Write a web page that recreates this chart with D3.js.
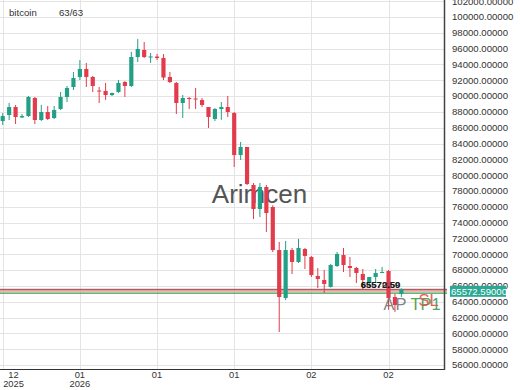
<!DOCTYPE html>
<html>
<head>
<meta charset="utf-8">
<script src="https://cdn.jsdelivr.net/npm/d3@7"></script>
<style>
body { margin: 0; background: #fff; font-family: "Liberation Sans", Arial, sans-serif; }
</style>
</head>
<body>
<svg id="chart" width="520" height="390"></svg>
<script>
// daily candles, first one on 20 Dec 2025
const startDate = new Date(2025, 11, 20);

const opens = [
    86850, 87610, 88620, 87300, 87480, 89760, 86980, 87990, 87230, 88370,
    89890, 91150, 92420, 93430, 92420, 90700, 90650, 90140, 90520, 91780,
    91280, 94940, 95830, 94880, 95000, 94820, 92420, 91660, 89130, 89760,
    89700, 89510, 88620, 87110, 88370, 88620, 87860, 82550, 83570, 78760,
    75730, 78510, 75980, 70540, 64480, 70540, 69030, 70670, 69660, 67260,
    66750, 65870, 68520, 69910, 68520, 68270, 67510, 66370, 67130, 67640,
    67890, 64600, 64980
];
const highs = [
    87860, 89130, 88870, 87740, 90010, 89890, 88880, 88750, 88750, 90520,
    91280, 93050, 94560, 94190, 92540, 91150, 91660, 90450, 92040, 91910,
    95580, 97220, 96840, 95450, 95320, 95320, 93050, 91780, 90140, 89890,
    91020, 89760, 88620, 88500, 89250, 90010, 87990, 84200, 83570, 79010,
    79010, 78760, 76200, 71560, 71690, 70800, 71940, 70800, 69790, 68270,
    68020, 68770, 70290, 70800, 69660, 68400, 68140, 67130, 68140, 68400,
    68020, 64980, 65700
];
const lows = [
    86350, 86980, 86470, 87230, 87360, 86470, 86850, 86980, 87100, 88240,
    89250, 90770, 92040, 91150, 90520, 89130, 89510, 90010, 90390, 89890,
    91150, 94310, 94820, 94190, 94560, 92040, 91660, 87740, 87230, 88370,
    88370, 88620, 85970, 86850, 87000, 87360, 81040, 81920, 78760, 74460,
    74720, 72820, 70290, 60180, 64220, 67510, 68900, 68140, 67130, 65740,
    65110, 65800, 68400, 67760, 67130, 66370, 65610, 66000, 66370, 67640,
    63000, 62710, 64600
];
const closes = [
    87480, 88620, 87360, 87480, 89890, 86980, 87990, 87110, 88240, 89890,
    91020, 92290, 93430, 92420, 91280, 90580, 90140, 90390, 91660, 91280,
    94940, 95960, 94940, 95010, 94820, 92350, 91780, 89130, 89760, 89630,
    89600, 88880, 87360, 88370, 88620, 87990, 82550, 83570, 78890, 75730,
    78510, 75220, 70540, 64600, 70540, 69030, 70800, 69790, 67380, 66880,
    66250, 68650, 70040, 68650, 68270, 67640, 66750, 67130, 67640, 67760,
    64480, 63590, 65572.59
];

const yTicks = d3.range(56000, 102001, 2000);
const xTickEvery = 12;

const symbol = "bitcoin";
const countLabel = "63/63";
const watermark = "Arimcen";
const lastPrice = 65572.59;
const priceTags = ["65572.59", "65570.50"];

// trade levels drawn as lines + markers
const levelNames = ["SL", "P", "TP1"];
const levelValues = [65400, 65572.59, 65080];
const levelColors = ["#e3a0a0", "#9a4545", "#3f9b4a"];
const levelWidths = [2.2, 1, 1.2];

const upColor = "#21a086", downColor = "#e23b4c";

const plotRight = 444, plotBottom = 369;

const svg = d3.select("#chart");

const candles = opens.map((o, i) => ({
    i, date: d3.timeDay.offset(startDate, i),
    o, h: highs[i], l: lows[i], c: closes[i]
}));

const x = d3.scaleBand()
    .domain(candles.map(d => d.i))
    .range([-0.5, 404.6])
    .paddingInner(0.35)
    .paddingOuter(0.175);
const cx = i => x(i) + x.bandwidth() / 2;

const y = d3.scaleLinear().domain([55500, 102150]).range([plotBottom, 0]);

// grid
const grid = svg.append("g");
grid.selectAll(".hg").data(yTicks).enter().append("line")
    .attr("x1", 0).attr("x2", plotRight)
    .attr("y1", d => Math.round(y(d)) + 0.5).attr("y2", d => Math.round(y(d)) + 0.5)
    .attr("stroke", "#e4e4e4").attr("stroke-width", 1);

const xTicks = candles.filter(d => d.i % xTickEvery === 0);
grid.selectAll(".vg").data(xTicks).enter().append("line")
    .attr("x1", d => Math.round(cx(d.i)) + 0.5).attr("x2", d => Math.round(cx(d.i)) + 0.5)
    .attr("y1", 0).attr("y2", plotBottom)
    .attr("stroke", "#e4e4e4").attr("stroke-width", 1);

// watermark behind candles
svg.append("text")
    .attr("x", 259.5).attr("y", 203)
    .attr("text-anchor", "middle")
    .attr("font-size", 26).attr("fill", "#555")
    .text(watermark);

// level lines
svg.append("g").selectAll("line").data(levelValues).enter().append("line")
    .attr("x1", 0).attr("x2", plotRight + 3)
    .attr("y1", d => y(d)).attr("y2", d => y(d))
    .attr("stroke", (d, i) => levelColors[i])
    .attr("stroke-width", (d, i) => levelWidths[i]);

// candles
const cg = svg.append("g");
cg.selectAll(".wick").data(candles).enter().append("line")
    .attr("x1", d => cx(d.i)).attr("x2", d => cx(d.i))
    .attr("y1", d => y(d.h)).attr("y2", d => y(d.l))
    .attr("stroke", d => d.c >= d.o ? upColor : downColor)
    .attr("stroke-width", 1);
cg.selectAll(".body").data(candles).enter().append("rect")
    .attr("x", d => x(d.i))
    .attr("width", x.bandwidth())
    .attr("y", d => y(Math.max(d.o, d.c)))
    .attr("height", d => Math.max(1, Math.abs(y(d.o) - y(d.c))))
    .attr("fill", d => d.c >= d.o ? upColor : downColor);

// overlapping price tags near the last candle
const xEnd = cx(candles.length - 1);
svg.append("g").selectAll("text").data(priceTags).enter().append("text")
    .attr("x", xEnd - 1).attr("y", y(lastPrice) - 1.5)
    .attr("text-anchor", "end")
    .attr("font-size", 9.5).attr("font-weight", "bold").attr("fill", "#111")
    .attr("opacity", 0.8)
    .text(d => d);

// level markers
const markers = [
    { t: "A", dx: -18, dy: 21, color: "#777" },
    { t: "P", dx: -6, dy: 21, color: "#777" },
    { t: "TP1", dx: 9, dy: 21, color: "#3f9b4a" },
    { t: "SL", dx: 17, dy: 17, color: "#e0524f" }
];
svg.append("g").selectAll("text").data(markers).enter().append("text")
    .attr("x", d => xEnd + d.dx).attr("y", d => y(lastPrice) + d.dy)
    .attr("font-size", 16.5).attr("fill", d => d.color)
    .attr("opacity", 0.9)
    .text(d => d.t);

// frame
svg.append("line").attr("x1", 0).attr("x2", plotRight).attr("y1", plotBottom + 0.5).attr("y2", plotBottom + 0.5)
    .attr("stroke", "#333").attr("stroke-width", 1.2);
svg.append("line").attr("x1", plotRight + 0.5).attr("x2", plotRight + 0.5).attr("y1", 0).attr("y2", plotBottom + 1)
    .attr("stroke", "#444").attr("stroke-width", 1.5);

// y axis labels
const fmt = d3.format(".5f");
svg.append("g").selectAll("text").data(yTicks).enter().append("text")
    .attr("x", 452).attr("y", d => y(d)).attr("dy", "0.35em")
    .attr("font-size", 9.6).attr("fill", "#333")
    .text(d => fmt(d));

// last price tag on the axis
const tagY = y(lastPrice) + 2;
svg.append("rect").attr("x", 450).attr("y", tagY - 5.5).attr("width", 56).attr("height", 11)
    .attr("fill", "#2aa893");
svg.append("text").attr("x", 451).attr("y", tagY).attr("dy", "0.35em")
    .attr("font-size", 9.6).attr("fill", "#fff")
    .text(fmt(lastPrice));

// x axis labels: month, and year when it changes
const mFmt = d3.timeFormat("%m"), yFmt = d3.timeFormat("%Y");
const xl = svg.append("g");
xTicks.forEach((d, k) => {
    const prev = k > 0 ? xTicks[k - 1].date : null;
    const showYear = !prev || prev.getFullYear() !== d.date.getFullYear();
    const lines = showYear ? [mFmt(d.date), yFmt(d.date)] : [mFmt(d.date)];
    const px = Math.max(cx(d.i), 13.5);
    lines.forEach((s, j) => {
        xl.append("text")
            .attr("x", px).attr("y", 378 + j * 8.7)
            .attr("text-anchor", "middle")
            .attr("font-size", 9.3).attr("fill", "#333")
            .text(s);
    });
});

// header
svg.append("text").attr("x", 9).attr("y", 16).attr("font-size", 9.6).attr("fill", "#333").text(symbol);
svg.append("text").attr("x", 59).attr("y", 16).attr("font-size", 9.6).attr("fill", "#333").text(countLabel);
</script>
</body>
</html>
